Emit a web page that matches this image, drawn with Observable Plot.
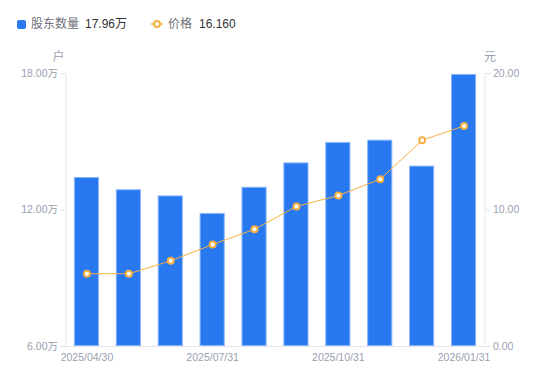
<!DOCTYPE html>
<html>
<head>
<meta charset="utf-8">
<script src="https://cdn.jsdelivr.net/npm/d3@7"></script>
<script src="https://cdn.jsdelivr.net/npm/@observablehq/plot@0.6"></script>
<style>
  html, body { margin: 0; padding: 0; background: #fff; }
  body { width: 550px; height: 381px; overflow: hidden; font-family: "Liberation Sans", "Noto Sans CJK SC", sans-serif; }
  #legend { position: relative; height: 48px; font-size: 12px; }
  #legend span { position: absolute; top: 16px; line-height: 16px; white-space: nowrap; }
  .sw { position: absolute; left: 17px; top: 20px; width: 9px; height: 9px; background: #2878F0; border-radius: 2px; }
  .lab { color: #6e7079; }
  .val { color: #333; }
</style>
</head>
<body>
<div id="legend">
  <div class="sw"></div>
  <span class="lab" style="left:31px">股东数量</span>
  <span class="val" style="left:85px">17.96万</span>
  <svg style="position:absolute;left:150px;top:18px" width="14" height="12">
    <line x1="1" y1="6" x2="13" y2="6" stroke="#F7B042" stroke-width="1.5"/>
    <circle cx="7" cy="6" r="3" fill="#fff" stroke="#F7B042" stroke-width="2"/>
  </svg>
  <span class="lab" style="left:168px">价格</span>
  <span class="val" style="left:199px">16.160</span>
</div>
<div id="chart"></div>
<script>
const dates = ["2025/04/30","2025/05/31","2025/06/30","2025/07/31","2025/08/31","2025/09/30","2025/10/31","2025/11/30","2025/12/31","2026/01/31"];
const holders = [13.43, 12.89, 12.62, 11.85, 13.00, 14.07, 14.97, 15.07, 13.93, 17.96]; // 万户
const prices = [5.33, 5.33, 6.28, 7.47, 8.59, 10.26, 11.06, 12.26, 15.11, 16.16]; // 元
const shownDates = ["2025/04/30","2025/07/31","2025/10/31","2026/01/31"];
const leftTicks = [6, 12, 18];
const rightTicks = [0, 10, 20];

const yMin = 6, yMax = 18, pMin = 0, pMax = 20;
const toY = p => yMin + (p - pMin) * (yMax - yMin) / (pMax - pMin);
const fromY = y => pMin + (y - yMin) * (pMax - pMin) / (yMax - yMin);

const rows = dates.map((d, i) => ({date: d, holders: holders[i], price: prices[i], py: toY(prices[i])}));

const gray = "#9a9fb0";
const chart = Plot.plot({
  width: 550,
  height: 333,
  marginLeft: 65.5,
  marginRight: 65.5,
  marginTop: 25,
  marginBottom: 35,
  style: {fontFamily: "'Liberation Sans', 'Noto Sans CJK SC', sans-serif", fontSize: "10.5px", color: gray, background: "#fff"},
  x: {type: "band", domain: dates, paddingInner: 0.4, paddingOuter: 0.2, round: false, label: null},
  y: {domain: [yMin, yMax], label: null},
  marks: [
    Plot.frame({stroke: "#e3e5ea"}),
    Plot.ruleY([yMax], {stroke: "#fff", strokeWidth: 1.5}),
    Plot.axisX({tickSize: 0, tickPadding: 7, tickFormat: d => shownDates.includes(d) ? d : "", fill: gray, label: null}),
    Plot.axisY({anchor: "left", ticks: leftTicks, tickSize: 5, tickPadding: 3, stroke: "#dfe1e6", fill: gray, tickFormat: d => d.toFixed(2) + "万", label: null}),
    Plot.axisY({anchor: "right", ticks: leftTicks, tickSize: 5, tickPadding: 3, stroke: "#dfe1e6", fill: gray, tickFormat: d => fromY(d).toFixed(2), label: null}),
    Plot.barY(rows, {x: "date", y1: yMin, y2: "holders", fill: "#2878F0", stroke: "#8ab6f9", strokeWidth: 1, inset: 0.5}),
    Plot.line(rows, {x: "date", y: "py", stroke: "#F7B042", strokeWidth: 1}),
    Plot.dot(rows, {x: "date", y: "py", r: 3, fill: "#fff", stroke: "#F7B042", strokeWidth: 2}),
    Plot.text(["户"], {frameAnchor: "top-left", textAnchor: "middle", lineAnchor: "middle", dx: -7.5, dy: -16, fill: gray, fontSize: 12}),
    Plot.text(["元"], {frameAnchor: "top-right", textAnchor: "middle", lineAnchor: "middle", dx: 5, dy: -16, fill: gray, fontSize: 12})
  ]
});
document.getElementById("chart").appendChild(chart);
</script>
</body>
</html>
